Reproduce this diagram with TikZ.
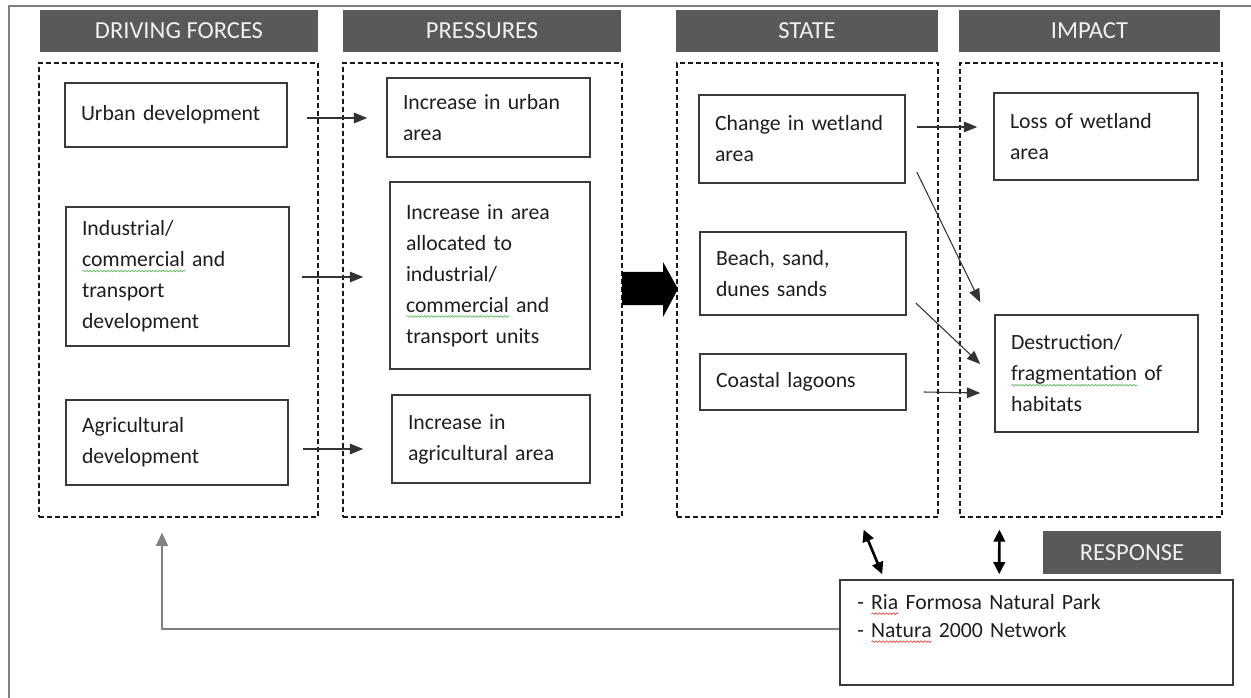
\documentclass[tikz,border=0pt]{standalone}
\usepackage{fontspec}
\setmainfont{Carlito}
\usetikzlibrary{arrows.meta,calc,decorations.pathmorphing}

\definecolor{hdrgray}{HTML}{595959}
\definecolor{hdrtext}{HTML}{F0F0F0}
\definecolor{inkc}{HTML}{1E1E1E}
\definecolor{edgec}{HTML}{3A3A3A}
\definecolor{framec}{HTML}{808080}
\definecolor{sqgreen}{HTML}{5CB85C}
\definecolor{sqred}{HTML}{E0413A}

% wavy spell-check style underline: \sq{colour}{word}
\newlength\sqlen
\newcommand\sq[2]{\leavevmode\settowidth\sqlen{#2}\rlap{\tikz[baseline=0pt,x=1pt,y=1pt]\draw[#1,line width=0.5pt,decorate,
  decoration={snake,amplitude=0.6pt,segment length=2.6pt}] (0pt,-3.2pt) -- (\sqlen,-3.2pt);}#2}

\begin{document}
\begin{tikzpicture}[x=0.75pt,y=-0.75pt,
  txt/.style={font=\fontsize{16.3}{23.25}\selectfont, text=inkc},
  header/.style={font=\fontsize{18.4}{22}\selectfont, fill=hdrgray, text=hdrtext, minimum height=31.5pt, inner sep=0pt},
  group/.style={draw=black!90, line width=0.9pt, dash pattern=on 3.75pt off 2.25pt,
    minimum height=340.5pt, inner sep=0pt},
  item/.style={txt, draw=edgec, line width=1.2pt, align=left, inner xsep=12pt, inner ysep=0pt},
  arr/.style={draw=black!80, line width=0.8pt, -{Triangle[length=10pt,width=8pt]}},
  dbl/.style={draw=black, line width=2pt, {Triangle[length=9pt,width=8.5pt]}-{Triangle[length=9pt,width=8.5pt]}},
  feed/.style={draw=framec, line width=1.2pt, -{Triangle[length=10pt,width=9pt]}, color=framec}
]
\useasboundingbox (0,0) rectangle (1251,698);

% outer frame (top and left edges)
\draw[framec, line width=1.2pt] (9,698) -- (9,6) -- (1251,6);

% column headers
\node[header, minimum width=208.5pt] (hdf) at (179,31) {DRIVING FORCES};
\node[header, minimum width=208.5pt] (hpr) at (482,31) {PRESSURES};
\node[header, minimum width=196.5pt] (hst) at (807,31) {STATE};
\node[header, minimum width=195.75pt] (him) at (1089.5,31) {IMPACT};
\node[header, minimum width=133.5pt, minimum height=32.25pt] (hresp) at (1132,552.5) {RESPONSE};

% dashed column groups
\node[group, minimum width=209.25pt] (df) at (178.5,290) {};
\node[group, minimum width=209.25pt] (pr) at (482.5,290) {};
\node[group, minimum width=195.75pt] (st) at (807.5,290) {};
\node[group, minimum width=196.5pt] (im) at (1091,290) {};

% driving forces
\node[item, minimum width=166.5pt, minimum height=48pt, text width=142.5pt] (urban) at (176,115)
  {Urban development};
\node[item, minimum width=167.25pt, minimum height=104.25pt, text width=143.25pt] (indus) at (177.5,276.5)
  {Industrial/\\ \sq{sqgreen}{commercial} and\\ transport\\ development};
\node[item, minimum width=166.5pt, minimum height=63.75pt, text width=142.5pt] (agri) at (177,442.5)
  {Agricultural\\ development};

% pressures
\node[item, minimum width=152.25pt, minimum height=59.25pt, text width=128.25pt] (incurban) at (488.5,117.5)
  {Increase in urban\\ area};
\node[item, minimum width=150pt, minimum height=140.25pt, text width=126pt] (incarea) at (490,275.5)
  {Increase in area\\ allocated to\\ industrial/\\ \sq{sqgreen}{commercial} and\\ transport units};
\node[item, minimum width=148.5pt, minimum height=66pt, text width=124.5pt] (incagri) at (491,439)
  {Increase in\\ agricultural area};

% state
\node[item, minimum width=154.5pt, minimum height=66pt, text width=130.5pt] (wet) at (802,139)
  {Change in wetland\\ area};
\node[item, minimum width=154.5pt, minimum height=62.25pt, text width=130.5pt] (beach) at (803,273.5)
  {Beach, sand,\\ dunes sands};
\node[item, minimum width=154.5pt, minimum height=42pt, text width=130.5pt] (coastal) at (803,382)
  {Coastal lagoons};

% impact
\node[item, minimum width=153pt, minimum height=65.25pt, text width=129pt] (loss) at (1096,136.5)
  {Loss of wetland\\ area};
\node[item, minimum width=152.25pt, minimum height=87.75pt, text width=128.25pt] (destr) at (1096.5,373.5)
  {Destruction/\\ \sq{sqgreen}{fragmentation} of\\ habitats};

% response
\node[item, minimum width=294.75pt, minimum height=78.75pt] (resp) at (1036.5,632.5) {};
\node[txt, anchor=north west, inner sep=0pt, align=left, text width=270pt,
  font=\fontsize{16.3}{21}\selectfont] (resptext) at (857,594)
  {- \sq{sqred}{Ria} Formosa Natural Park\\ - \sq{sqred}{Natura} 2000 Network};

% driving forces -> pressures
\draw[arr] ($(urban.east)+(19,3)$) -- ($(incurban.west)+(-19,0.5)$);
\draw[arr] ($(indus.east)+(12,0.5)$) -- ($(incarea.west)+(-26,1.5)$);
\draw[arr] ($(agri.east)+(14,6.5)$) -- ($(incagri.west)+(-28,10)$);

% pressures -> state (block arrow)
\fill[black] (622,272) -- (663,272) -- (663,262) -- (678,289) -- (663,317) -- (663,305) -- (622,305) -- cycle;

% state -> impact
\draw[arr] ($(wet.east)+(11,-12)$) -- ($(loss.west)+(-16,-9.5)$);
\draw[arr] ($(wet.east)+(11,33)$) -- ($(destr.north west)+(-14,-12)$);
\draw[arr] ($(beach.east)+(9,29.5)$) -- ($(destr.west)+(-14,-9.5)$);
\draw[arr] ($(coastal.east)+(17,10)$) -- ($(destr.west)+(-14,19.5)$);

% response links
\draw[dbl] ($(st.south east)+(-75,12)$) -- ($(resp.north west)+(43,-5)$);
\draw[dbl] ($(im.south west)+(40,12)$) -- ($(resp.north west)+(160,-5)$);

% feedback to driving forces
\coordinate (fbc) at (162,629);
\draw[feed] (resp.west |- fbc) -- (fbc) -- ($(df.south -| fbc)+(0,15)$);
\end{tikzpicture}
\end{document}
